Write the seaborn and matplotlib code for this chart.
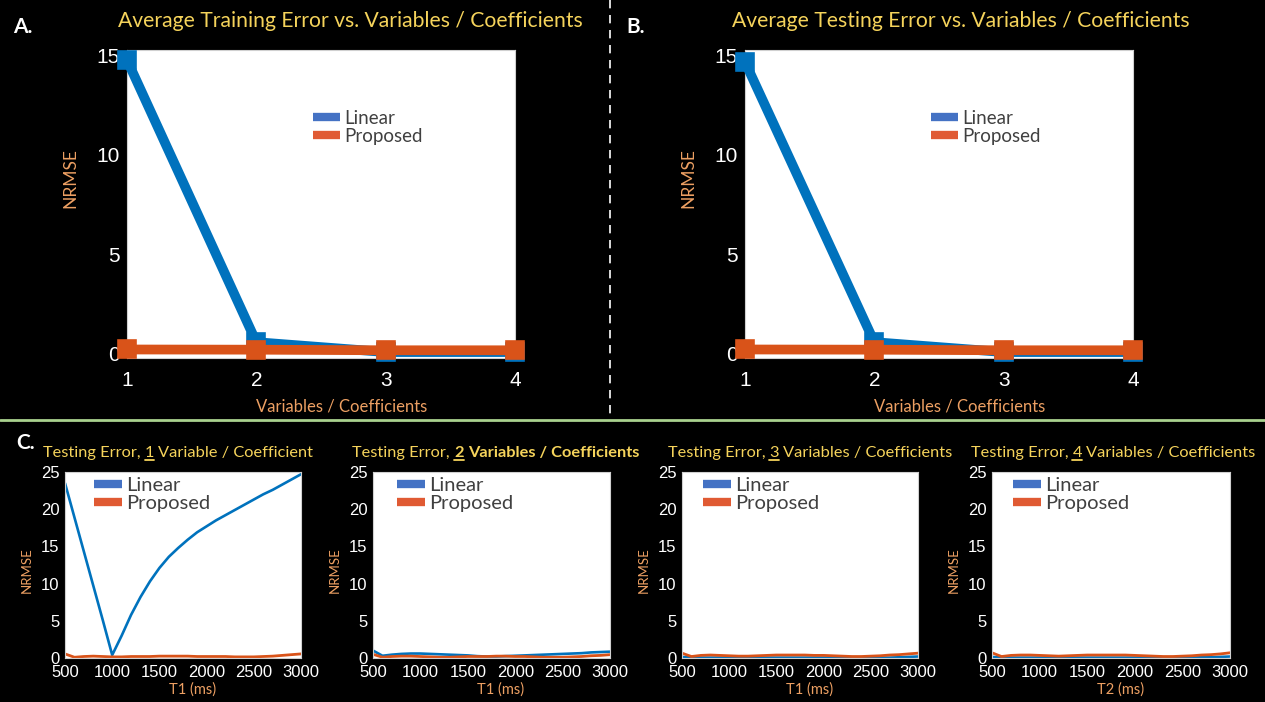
import matplotlib
matplotlib.use("Agg")
import matplotlib.pyplot as plt
import seaborn as sns
from matplotlib.lines import Line2D

# --- data ---
n_vars = [1, 2, 3, 4]
train_linear = [14.8, 0.55, 0.05, 0.05]
train_proposed = [0.18, 0.17, 0.14, 0.14]
test_linear = [14.7, 0.55, 0.05, 0.05]
test_proposed = [0.18, 0.17, 0.14, 0.14]

t_ms = list(range(500, 3001, 100))
err1_linear = [23.5, 18.9, 14.3, 9.7, 5.1, 0.4, 3.0, 5.8, 8.2, 10.3, 12.1, 13.6, 14.8,
               15.9, 16.9, 17.7, 18.5, 19.2, 19.9, 20.6, 21.3, 22.0, 22.6, 23.3, 24.0, 24.7]
err1_proposed = [0.55, 0.1, 0.2, 0.25, 0.2, 0.15, 0.15, 0.2, 0.2, 0.2, 0.25, 0.25, 0.25,
                 0.25, 0.2, 0.2, 0.2, 0.2, 0.15, 0.15, 0.15, 0.2, 0.25, 0.35, 0.45, 0.55]
err2_linear = [1.0, 0.3, 0.45, 0.55, 0.6, 0.6, 0.55, 0.5, 0.45, 0.4, 0.35, 0.25, 0.2,
               0.2, 0.25, 0.3, 0.35, 0.4, 0.45, 0.5, 0.55, 0.6, 0.65, 0.75, 0.8, 0.85]
err2_proposed = [0.5, 0.1, 0.2, 0.25, 0.25, 0.2, 0.15, 0.1, 0.1, 0.15, 0.2, 0.2, 0.2,
                 0.25, 0.25, 0.2, 0.2, 0.15, 0.1, 0.1, 0.1, 0.15, 0.2, 0.3, 0.35, 0.45]
err3_linear = [0.15, 0.05, 0.05, 0.05, 0.05, 0.05, 0.05, 0.05, 0.05, 0.05, 0.05, 0.05, 0.05,
               0.05, 0.05, 0.05, 0.05, 0.05, 0.05, 0.05, 0.05, 0.05, 0.05, 0.1, 0.15, 0.2]
err3_proposed = [0.65, 0.2, 0.35, 0.4, 0.35, 0.3, 0.25, 0.25, 0.3, 0.35, 0.4, 0.4, 0.4,
                 0.4, 0.35, 0.35, 0.3, 0.25, 0.2, 0.2, 0.25, 0.3, 0.4, 0.45, 0.55, 0.65]
err4_linear = [0.15, 0.05, 0.05, 0.05, 0.05, 0.05, 0.05, 0.05, 0.05, 0.05, 0.05, 0.05, 0.05,
               0.05, 0.05, 0.05, 0.05, 0.05, 0.05, 0.05, 0.05, 0.05, 0.1, 0.1, 0.15, 0.2]
err4_proposed = [0.7, 0.2, 0.35, 0.4, 0.4, 0.35, 0.3, 0.25, 0.3, 0.35, 0.4, 0.4, 0.4,
                 0.4, 0.4, 0.35, 0.3, 0.25, 0.2, 0.2, 0.25, 0.3, 0.4, 0.45, 0.55, 0.7]

bottom_sets = [(err1_linear, err1_proposed, "T1 (ms)"),
               (err2_linear, err2_proposed, "T1 (ms)"),
               (err3_linear, err3_proposed, "T1 (ms)"),
               (err4_linear, err4_proposed, "T2 (ms)")]

# --- colours / fonts ---
BLUE = "#0072BD"
ORANGE = "#D95319"
LEG_BLUE = "#4472C4"
LEG_ORANGE = "#E05A33"
YELLOW = "#F5D35B"
PEACH = "#EDA063"
TFONT = ["Lato", "DejaVu Sans"]

sns.set_style("white")
plt.rcParams["font.family"] = ["Liberation Sans", "DejaVu Sans"]

W, H = 1265, 702
fig = plt.figure(figsize=(W / 100, H / 100), dpi=100, facecolor="black")


def px_axes(l, t, r, b):
    return fig.add_axes([l / W, 1 - b / H, (r - l) / W, (b - t) / H])


def style_axes(ax, size, xpad, ypad):
    ax.set_facecolor("white")
    ax.tick_params(length=0, labelsize=size, colors="white")
    ax.tick_params(axis="x", pad=xpad)
    ax.tick_params(axis="y", pad=ypad)
    for s in ax.spines.values():
        s.set_color("#d0d0d0")
        s.set_linewidth(0.8)


def legend(ax, anchor, size, hlen, spacing):
    handles = [Line2D([], [], color=LEG_BLUE, lw=6, solid_capstyle="butt"),
               Line2D([], [], color=LEG_ORANGE, lw=6, solid_capstyle="butt")]
    ax.legend(handles, ["Linear", "Proposed"], loc="upper left", bbox_to_anchor=anchor,
              frameon=False, prop={"family": TFONT, "size": size}, handlelength=hlen,
              handletextpad=0.2, labelspacing=spacing, borderpad=0, borderaxespad=0,
              labelcolor="#404040")


# --- top panels ---
top = [(px_axes(127, 50, 515, 358), train_linear, train_proposed),
       (px_axes(745, 50, 1133, 358), test_linear, test_proposed)]
for ax, lin, prop in top:
    for vals, c in [(lin, BLUE), (prop, ORANGE)]:
        sns.lineplot(x=n_vars, y=vals, ax=ax, color=c, linewidth=7, marker="s",
                     markersize=8, markeredgewidth=5.5, markerfacecolor="none",
                     markeredgecolor=c, clip_on=False, zorder=3)
    ax.set_xlim(1, 4)
    ax.set_ylim(-0.25, 15.3)
    ax.set_xticks(n_vars)
    ax.set_yticks([0, 5, 10, 15])
    style_axes(ax, 15, 9, 5)
    ax.set_ylabel("NRMSE", color=PEACH, fontsize=12.5, family=TFONT)
    ax.yaxis.set_label_coords(-0.125, 0.584)
    ax.set_xlabel("Variables / Coefficients", color=PEACH, fontsize=12, family=TFONT)
    ax.xaxis.set_label_coords(0.552, -0.13)
    legend(ax, (0.479, 0.805), 13.5, 1.45, 0.05)

fig.text(350 / W, 1 - 21 / H, "Average Training Error vs. Variables / Coefficients",
         color=YELLOW, fontsize=15.2, family=TFONT, ha="center", va="center")
fig.text(961 / W, 1 - 21 / H, "Average Testing Error vs. Variables / Coefficients",
         color=YELLOW, fontsize=15.2, family=TFONT, ha="center", va="center")

# --- bottom panels ---
boxes = [(65, 472, 301, 658), (373, 472, 610, 658), (682, 472, 918, 658), (992, 472, 1230, 658)]
leg_x = [0.123, 0.10, 0.089, 0.088]
for (l, t, r, b), (lin, prop, xl), lx in zip(boxes, bottom_sets, leg_x):
    ax = px_axes(l, t, r, b)
    sns.lineplot(x=t_ms, y=lin, ax=ax, color=BLUE, linewidth=1.9)
    sns.lineplot(x=t_ms, y=prop, ax=ax, color=ORANGE, linewidth=2.0)
    ax.set_xlim(500, 3000)
    ax.set_ylim(0, 25)
    ax.set_xticks(range(500, 3001, 500))
    ax.set_yticks(range(0, 26, 5))
    style_axes(ax, 12, 5, 4)
    ax.set_ylabel("NRMSE", color=PEACH, fontsize=9.5, family=TFONT)
    ax.yaxis.set_label_coords(-0.135, 0.47)
    ax.set_xlabel(xl, color=PEACH, fontsize=10.5, family=TFONT)
    ax.xaxis.set_label_coords(0.54, -0.13)
    legend(ax, (lx, 0.975), 14.5, 1.4, 0.05)

# --- rich bottom titles (underlined digit, partly bold) ---
renderer = fig.canvas.get_renderer()


def text_w(s, size, weight):
    t = fig.text(0, 0, s, fontsize=size, family=TFONT, fontweight=weight)
    w = t.get_window_extent(renderer).width
    t.remove()
    return w


def rich_title(xc, base_y, parts, size=11.8):
    sp = text_w("x x", size, "normal") - text_w("xx", size, "normal")
    widths = [text_w(s, size, wt) for s, wt, _ in parts]
    total = sum(widths) + sp * (len(parts) - 1)
    x = xc - total / 2
    for (s, wt, ul), w in zip(parts, widths):
        fig.text(x / W, 1 - base_y / H, s, fontsize=size, family=TFONT, fontweight=wt,
                 color=YELLOW, va="baseline")
        if ul:
            fig.add_artist(Line2D([x / W, (x + w) / W], [1 - (base_y + 2.5) / H] * 2,
                                  transform=fig.transFigure, color=YELLOW, lw=1.3))
        x += w + sp


rich_title(178, 457, [("Testing Error,", "normal", False), ("1", "normal", True),
                      ("Variable / Coefficient", "normal", False)])
rich_title(496, 457, [("Testing Error,", "normal", False), ("2", "bold", True),
                      ("Variables / Coefficients", "bold", False)])
rich_title(810, 457, [("Testing Error,", "normal", False), ("3", "normal", True),
                      ("Variables / Coefficients", "normal", False)])
rich_title(1113, 457, [("Testing Error,", "normal", False), ("4", "normal", True),
                       ("Variables / Coefficients", "normal", False)])

# --- panel letters and separators ---
for x, y, s in [(13, 27, "A."), (626, 27, "B."), (16, 443, "C.")]:
    fig.text(x / W, 1 - y / H, s, color="white", fontsize=15, fontweight="bold",
             family=TFONT, va="center")

fig.add_artist(Line2D([610 / W, 610 / W], [1, 1 - 418 / H], transform=fig.transFigure,
                      color="white", lw=1.2, ls=(0, (5, 4))))
fig.add_artist(Line2D([0, 1], [1 - 420 / H] * 2, transform=fig.transFigure,
                      color="#A9D18E", lw=2))

fig.savefig("out.png", dpi=100, facecolor="black")
